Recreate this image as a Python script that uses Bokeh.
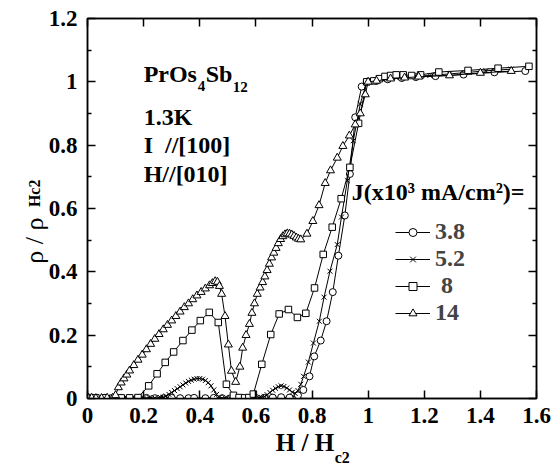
import math
from bokeh.plotting import figure
from bokeh.models import (Label, Legend, LegendItem, LinearAxis, FixedTicker,
                          Range1d, CustomJSTickFormatter)
from bokeh.embed import file_html
from bokeh.resources import INLINE

# ---------------- data ----------------
x_ticks = [0, 0.2, 0.4, 0.6, 0.8, 1, 1.2, 1.4, 1.6]
x_tick_labels = ["0", "0.2", "0.4", "0.6", "0.8", "1", "1.2", "1.4", "1.6"]
y_ticks = [0, 0.2, 0.4, 0.6, 0.8, 1, 1.2]
y_tick_labels = ["0", "0.2", "0.4", "0.6", "0.8", "1", "1.2"]
y_minor = [0.1, 0.3, 0.5, 0.7, 0.9, 1.1]

series_labels = ["3.8", "5.2", " 8", "14"]

# J = 3.8 (circles)
x38 = [0.0, 0.03, 0.06, 0.09, 0.12, 0.15, 0.18, 0.21, 0.24, 0.27,
       0.30, 0.33, 0.36, 0.38, 0.42, 0.45, 0.48, 0.51, 0.54, 0.57,
       0.60, 0.63, 0.66, 0.69, 0.72, 0.75, 0.769, 0.791, 0.808, 0.831,
       0.852, 0.874, 0.894, 0.917, 0.935, 0.954, 0.977, 0.995, 1.03, 1.07,
       1.12, 1.17, 1.24, 1.34, 1.45, 1.56]
y38 = [0.003, 0.002, 0.002, 0.001, 0.002, 0.001, 0.002, 0.002, 0.001, 0.001,
       0.002, 0.001, 0.001, 0.002, 0.001, 0.002, 0.001, 0.001, 0.001, 0.001,
       0.002, 0.002, 0.003, 0.004, 0.003, 0.01, 0.027, 0.07, 0.133, 0.183,
       0.244, 0.336, 0.451, 0.578, 0.709, 0.888, 0.985, 1.0, 1.003, 1.008,
       1.012, 1.015, 1.018, 1.023, 1.03, 1.034]

# J = 5.2 (crosses)
x52 = [0.0, 0.02, 0.04, 0.06, 0.08, 0.10, 0.12, 0.14, 0.16, 0.18,
       0.20, 0.22, 0.24, 0.26, 0.27, 0.28, 0.29, 0.30, 0.31, 0.32,
       0.33, 0.34, 0.35, 0.36, 0.37, 0.38, 0.39, 0.40, 0.41, 0.42,
       0.43, 0.44, 0.45, 0.46, 0.47, 0.49, 0.51, 0.53, 0.55, 0.57,
       0.59, 0.61, 0.62, 0.63, 0.64, 0.65, 0.66, 0.67, 0.68, 0.69,
       0.70, 0.71, 0.72, 0.73, 0.74, 0.75, 0.76, 0.77, 0.787, 0.805,
       0.826, 0.843, 0.864, 0.89, 0.905, 0.926, 0.947, 0.972, 0.995, 1.02,
       1.05, 1.1, 1.17, 1.22, 1.29, 1.36, 1.42, 1.51]
y52 = [0.002, 0.001, 0.002, 0.001, 0.002, 0.002, 0.003, 0.002, 0.003, 0.002,
       0.002, 0.003, 0.002, 0.003, 0.004, 0.008, 0.013, 0.019, 0.025, 0.031,
       0.037, 0.043, 0.049, 0.054, 0.058, 0.061, 0.063, 0.063, 0.061, 0.057,
       0.05, 0.04, 0.027, 0.013, 0.004, 0.002, 0.001, 0.002, 0.002, 0.001,
       0.002, 0.002, 0.003, 0.006, 0.012, 0.019, 0.026, 0.032, 0.037, 0.04,
       0.038, 0.033, 0.027, 0.02, 0.016, 0.025, 0.045, 0.07, 0.115, 0.175,
       0.244, 0.32, 0.402, 0.486, 0.573, 0.688, 0.814, 0.93, 1.0, 1.002,
       1.008, 1.013, 1.018, 1.02, 1.025, 1.03, 1.035, 1.04]

# J = 8 (squares)
x8 = [0.0, 0.03, 0.06, 0.09, 0.12, 0.15, 0.18,
      0.218, 0.248, 0.277, 0.307, 0.34, 0.372, 0.402, 0.434, 0.466,
      0.495, 0.52, 0.54, 0.56, 0.575, 0.591,
      0.621, 0.653, 0.683, 0.716, 0.748, 0.778,
      0.809, 0.84, 0.872, 0.904, 0.935, 0.966, 0.995,
      1.02, 1.04, 1.06, 1.08, 1.1, 1.125, 1.155, 1.187, 1.252, 1.356, 1.463, 1.573]
y8 = [0.003, 0.002, 0.002, 0.001, 0.002, 0.002, 0.003,
      0.04, 0.078, 0.114, 0.147, 0.183, 0.216, 0.246, 0.272, 0.24,
      0.045, 0.01, 0.003, 0.002, 0.003, 0.014,
      0.108, 0.202, 0.267, 0.281, 0.256, 0.269,
      0.349, 0.455, 0.541, 0.631, 0.73, 0.869, 1.0,
      1.003, 1.01, 1.017, 1.02, 1.022, 1.022, 1.02, 1.022, 1.031, 1.036, 1.043, 1.049]

# J = 14 (triangles)
x14 = [0.0, 0.015, 0.03, 0.05, 0.07, 0.09,
       0.10, 0.11, 0.12, 0.13, 0.14, 0.15,
       0.165, 0.18, 0.195, 0.21, 0.225, 0.24, 0.255, 0.27, 0.285, 0.30,
       0.315, 0.33, 0.345, 0.36, 0.375, 0.39, 0.405, 0.42, 0.435, 0.445,
       0.455, 0.463, 0.47, 0.478, 0.49, 0.502, 0.513, 0.528,
       0.543, 0.553, 0.565, 0.577, 0.586, 0.595, 0.605, 0.615, 0.624, 0.632,
       0.64, 0.648, 0.656, 0.664, 0.672, 0.68, 0.688, 0.696, 0.704, 0.712,
       0.72, 0.728, 0.736, 0.744, 0.752, 0.76,
       0.782, 0.803, 0.825, 0.847, 0.866, 0.89, 0.91, 0.933, 0.954, 0.972, 0.99, 1.0,
       1.03, 1.08, 1.13, 1.18, 1.29, 1.40, 1.51]
y14 = [0.005, 0.002, 0.001, 0.001, 0.002, 0.002,
       0.01, 0.035, 0.05, 0.063, 0.075, 0.088,
       0.105, 0.122, 0.138, 0.155, 0.172, 0.188, 0.203, 0.218, 0.232, 0.246,
       0.26, 0.274, 0.288, 0.3, 0.313, 0.325, 0.336, 0.347, 0.357, 0.364,
       0.37, 0.368, 0.355, 0.33, 0.26, 0.17, 0.087, 0.052,
       0.1, 0.16, 0.2, 0.235, 0.27, 0.3, 0.33, 0.35, 0.367, 0.385,
       0.405, 0.425, 0.445, 0.46, 0.475, 0.49, 0.503, 0.512, 0.518, 0.521,
       0.52, 0.517, 0.513, 0.508, 0.504, 0.502,
       0.52, 0.56, 0.61, 0.68, 0.72, 0.76, 0.797, 0.83, 0.865, 0.9, 0.96, 1.0,
       1.003, 1.01, 1.013, 1.016, 1.02, 1.028, 1.034]

# ---------------- figure ----------------
SERIF = "Liberation Serif"

p = figure(width=554, height=468, x_range=Range1d(0, 1.6), y_range=Range1d(0, 1.2),
           output_backend="svg", toolbar_location=None,
           min_border_left=87, min_border_right=18, min_border_top=18,
           min_border_bottom=70)
p.grid.visible = False
p.outline_line_color = "black"
p.outline_line_width = 1.5
p.background_fill_color = "white"
p.border_fill_color = "white"

def style_axis(ax, ticks, minor, labels=None):
    ax.ticker = FixedTicker(ticks=ticks, minor_ticks=minor)
    ax.axis_line_color = "black"
    ax.axis_line_width = 1.5
    ax.major_tick_in = 8
    ax.major_tick_out = 0
    ax.minor_tick_in = 4
    ax.minor_tick_out = 0
    ax.major_tick_line_width = 1.5
    ax.minor_tick_line_width = 1.5
    ax.major_tick_line_color = "black"
    ax.minor_tick_line_color = "black"
    ax.major_label_text_font = SERIF
    ax.major_label_text_font_style = "bold"
    ax.major_label_text_font_size = "23px"
    ax.major_label_text_color = "black"
    if labels is None:
        ax.formatter = CustomJSTickFormatter(code="return ''")
        ax.major_label_standoff = 0
    else:
        ax.major_label_overrides = dict(zip(ticks, labels))

style_axis(p.xaxis[0], x_ticks, [], x_tick_labels)
p.xaxis[0].major_label_standoff = 9
style_axis(p.yaxis[0], y_ticks, y_minor, y_tick_labels)
p.yaxis[0].major_label_standoff = 10

top_ax = LinearAxis()
style_axis(top_ax, x_ticks, [])
p.add_layout(top_ax, "above")
right_ax = LinearAxis()
style_axis(right_ax, y_ticks, y_minor)
p.add_layout(right_ax, "right")

# axis titles (with subscripts) as label-only axes stacked outside the frame
def title_axis(side, pos, text, size, style, standoff, orient=None):
    ax = LinearAxis(ticker=FixedTicker(ticks=[pos], minor_ticks=[]),
                    major_label_overrides={pos: text},
                    axis_line_color=None, major_tick_line_color=None,
                    minor_tick_line_color=None, major_tick_in=0, major_tick_out=0,
                    minor_tick_in=0, minor_tick_out=0,
                    major_label_text_font=SERIF, major_label_text_font_style=style,
                    major_label_text_font_size=size, major_label_text_color="black",
                    major_label_standoff=standoff)
    if orient is not None:
        ax.major_label_orientation = orient
    p.add_layout(ax, side)

title_axis("below", 0.775, "H / H", "25px", "bold", 3)
title_axis("below", 0.908, "c2", "16px", "bold", -10)
title_axis("left", 0.6915, "Hc2", "16px", "bold", 11, math.pi / 2)
title_axis("left", 0.5715, "ρ / ρ", "26px", "normal", -20, math.pi / 2)

# ---------------- series ----------------
def series(x, y, marker, size):
    ln = p.line(x, y, line_color="black", line_width=1)
    sc = p.scatter(x, y, marker=marker, size=size, fill_color="white",
                   line_color="black", line_width=1)
    return [ln, sc]

r38 = series(x38, y38, "circle", 7)
r52 = series(x52, y52, "x", 7)
r8 = series(x8, y8, "square", 6.5)
r14 = series(x14, y14, "triangle", 8)

legend = Legend(items=[LegendItem(label=series_labels[0], renderers=r38),
                       LegendItem(label=series_labels[1], renderers=r52),
                       LegendItem(label=series_labels[2], renderers=r8),
                       LegendItem(label=series_labels[3], renderers=r14)],
                location=(308, 72), glyph_width=35, glyph_height=20,
                label_height=20, spacing=0, padding=0, margin=0,
                border_line_color=None, background_fill_alpha=0,
                label_text_font=SERIF, label_text_font_style="bold",
                label_text_font_size="24px", label_standoff=5)
p.add_layout(legend)

# ---------------- text inside the frame ----------------
def lab(text, x, y, size="24px", style="bold", x_offset=0):
    p.add_layout(Label(x=x, y=y, text=text, x_offset=x_offset,
                       text_font=SERIF, text_font_style=style,
                       text_font_size=size, text_color="black",
                       text_baseline="alphabetic", text_align="left"))

lab("PrOs", 0.2, 1.025)
lab("4", 0.2, 0.987, size="15px", x_offset=54)
lab("Sb", 0.2, 1.025, x_offset=62)
lab("12", 0.2, 0.984, size="15px", x_offset=89)
lab("1.3K", 0.2, 0.889)
lab("I\u00a0 //[100]", 0.2, 0.801)
lab("H//[010]", 0.2, 0.709)

lab("J(x10³ mA/cm²)=", 0.942, 0.652)

open("out.html", "w").write(file_html(p, INLINE))
